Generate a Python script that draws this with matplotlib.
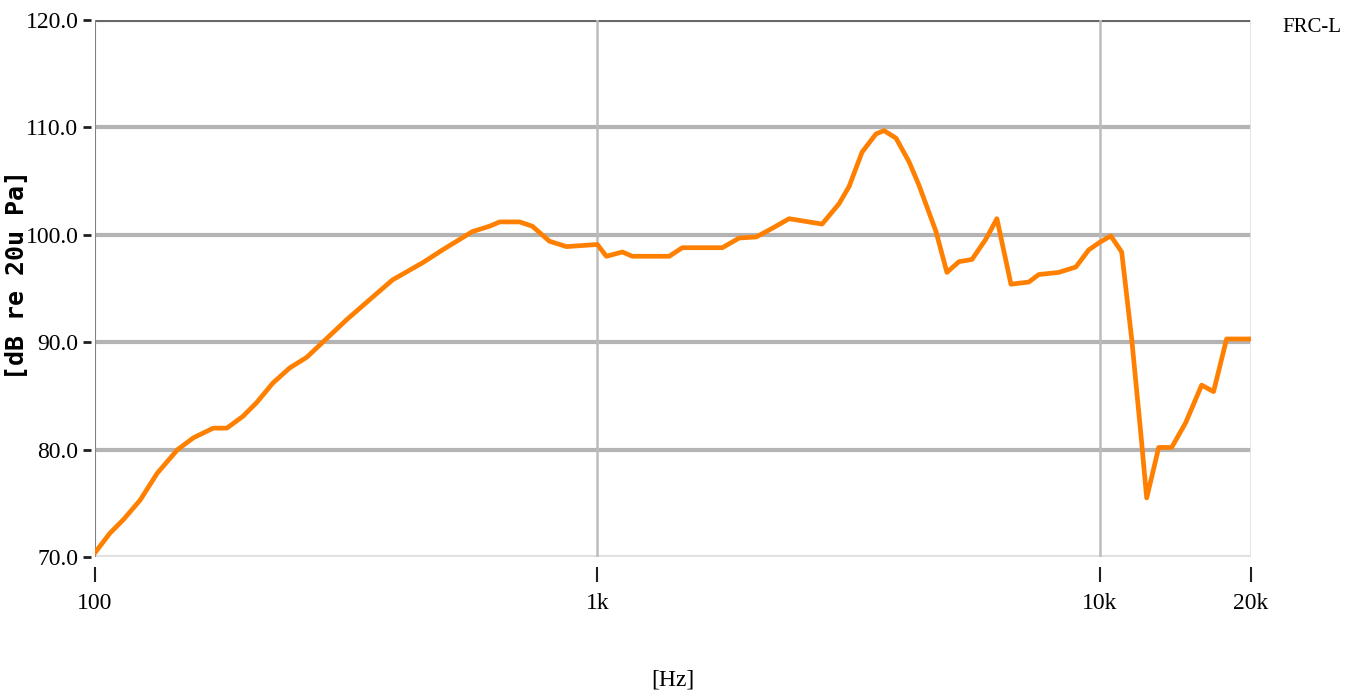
import matplotlib
matplotlib.use("Agg")
import matplotlib.pyplot as plt
from matplotlib.ticker import FixedLocator, NullLocator

# frequency response
freq_hz = [100, 107, 114, 123, 133, 146, 157, 172, 183, 197, 210, 226, 244,
           264, 284, 317, 357, 391, 449, 492, 564, 610, 639, 700, 742, 803,
           868, 1000, 1042, 1121, 1174, 1390, 1476, 1773, 1916, 2071, 2228,
           2408, 2556, 2801, 3028, 3170, 3364, 3587, 3721, 3930, 4172, 4368,
           4721, 4963, 5245, 5567, 5934, 6241, 6656, 7225, 7561, 8287, 8961,
           9509, 10000, 10517, 11057, 11576, 12064, 12400, 13102, 13903,
           14825, 15950, 16848, 17883, 20000]
level_db = [70.4, 72.2, 73.5, 75.3, 77.8, 80.0, 81.1, 82.0, 82.0, 83.1, 84.4,
            86.2, 87.6, 88.6, 90.0, 92.1, 94.2, 95.8, 97.4, 98.6, 100.3,
            100.8, 101.2, 101.2, 100.8, 99.4, 98.9, 99.1, 98.0, 98.4, 98.0,
            98.0, 98.8, 98.8, 99.7, 99.8, 100.6, 101.5, 101.3, 101.0, 102.9,
            104.5, 107.7, 109.4, 109.7, 109.0, 106.8, 104.6, 100.3, 96.5,
            97.5, 97.7, 99.6, 101.5, 95.4, 95.6, 96.3, 96.5, 97.0, 98.6,
            99.3, 99.9, 98.4, 90.3, 81.6, 75.5, 80.2, 80.2, 82.5, 86.0, 85.4,
            90.3, 90.3]

x_ticks = [100, 1000, 10000, 20000]
x_labels = ["100", "1k", "10k", "20k"]
y_ticks = [70, 80, 90, 100, 110, 120]
y_labels = ["70.0", "80.0", "90.0", "100.0", "110.0", "120.0"]

tick_font = dict(family="Liberation Serif", size=17)

fig = plt.figure(figsize=(13.46, 7.0), dpi=100)
ax = fig.add_axes([95 / 1346, 1 - 557 / 700, 1156 / 1346, 537 / 700])

ax.set_xscale("log")
ax.set_xlim(100, 20000)
ax.set_ylim(70, 120)

# grid
for v in [80, 90, 100, 110]:
    ax.axhline(v, color="#b4b4b4", lw=3, zorder=1)
ax.axhline(120, color="#686868", lw=3, zorder=1)
ax.axhline(70, color="#e2e2e2", lw=3, zorder=1)
for f in [1000, 10000]:
    ax.axvline(f, color="#bcbcbc", lw=1.8, zorder=1)
ax.axvline(100, color="#808080", lw=1.5, zorder=2)
ax.axvline(20000, color="#e2e2e2", lw=2, zorder=1)

ax.plot(freq_hz, level_db, color="#ff8000", lw=3.4, zorder=3)

for s in ax.spines.values():
    s.set_visible(False)
ax.spines["bottom"].set_position(("outward", 7))
ax.spines["left"].set_position(("outward", 3))

ax.xaxis.set_major_locator(FixedLocator(x_ticks))
ax.xaxis.set_minor_locator(NullLocator())
ax.set_xticklabels(x_labels, **tick_font)
ax.set_yticks(y_ticks)
ax.set_yticklabels(y_labels, **tick_font)
ax.tick_params(axis="x", direction="out", length=11, width=1.5,
               color="#202020", pad=8)
ax.tick_params(axis="y", direction="out", length=6, width=2,
               color="#202020", pad=3)

ax.set_xlabel("[Hz]", labelpad=40, **tick_font)
fig.text(17 / 1346, 1 - 275 / 700, "[dB re 20u Pa]", rotation=90,
         ha="center", va="center", family="DejaVu Sans Mono",
         fontweight="bold", size=18)

fig.text(1282 / 1346, 1 - 28 / 700, "FRC-L", ha="left", va="center",
         family="Liberation Serif", size=15)

fig.savefig("out.png", dpi=100, facecolor="white")
